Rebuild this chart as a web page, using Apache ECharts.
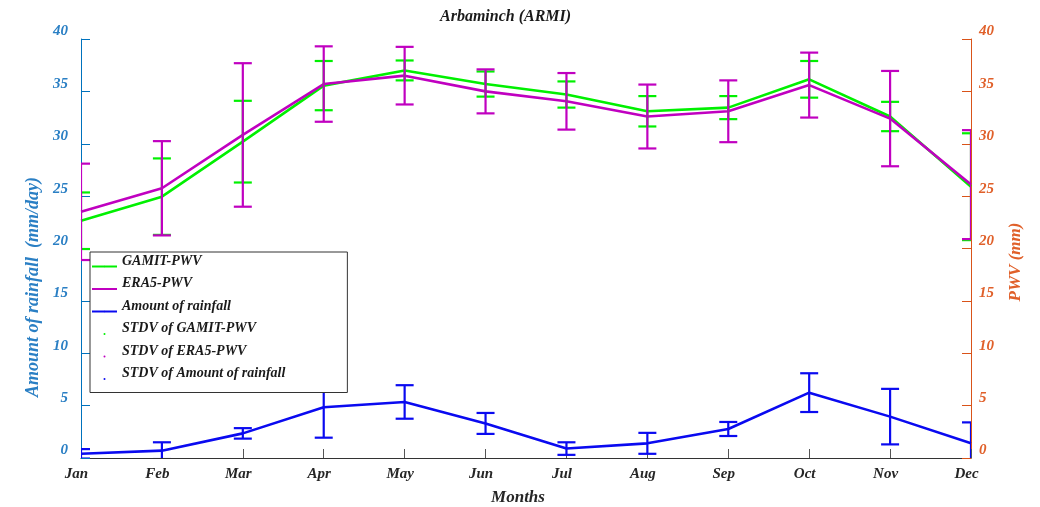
<!DOCTYPE html>
<html>
<head>
<meta charset="utf-8">
<script src="https://cdn.jsdelivr.net/npm/echarts@6/dist/echarts.min.js"></script>
<style>html,body{margin:0;padding:0;background:#fff}#c{width:1040px;height:507px}</style>
</head>
<body>
<div id="c"></div>
<script>
const months = ['Jan','Feb','Mar','Apr','May','Jun','Jul','Aug','Sep','Oct','Nov','Dec'];
const gamitPWV = [22.65, 24.95, 30.2, 35.55, 37.0, 35.7, 34.7, 33.1, 33.45, 36.15, 32.6, 25.9];
const gamitStd = [2.7, 3.65, 3.9, 2.35, 0.95, 1.2, 1.25, 1.45, 1.1, 1.75, 1.4, 5.1];
const era5PWV = [23.5, 25.75, 30.84, 35.7, 36.5, 35.0, 34.05, 32.6, 33.1, 35.6, 32.4, 26.1];
const era5Std = [4.6, 4.5, 6.85, 3.6, 2.75, 2.1, 2.7, 3.05, 2.95, 3.1, 4.55, 5.2];
const rainfall = [0.4, 0.7, 2.35, 4.84, 5.35, 3.3, 0.9, 1.4, 2.77, 6.24, 3.95, 1.4];
const rainStd = [0.45, 0.8, 0.5, 2.9, 1.6, 1.0, 0.6, 1.0, 0.67, 1.85, 2.65, 2.0];
const yTicks = [0, 5, 10, 15, 20, 25, 30, 35, 40];

const C_GAMIT = '#00f000', C_ERA = '#c000c0', C_RAIN = '#0a0af0';
const C_LEFT = '#2a7fc4', C_RIGHT = '#e0602a';
const L_LEFT = '#0072BD', L_RIGHT = '#D95319';
const FONT = 'Liberation Serif';

function errRender(color, lw) {
  return function (params, api) {
    const i = api.value(0), m = api.value(1), s = api.value(2);
    const t = api.coord([i, m + s]);
    const b = api.coord([i, m - s]);
    const h = 9;
    const st = { stroke: color, lineWidth: lw };
    return { type: 'group', children: [
      { type: 'line', shape: { x1: t[0], y1: t[1], x2: b[0], y2: b[1] }, style: st },
      { type: 'line', shape: { x1: t[0] - h, y1: t[1], x2: t[0] + h, y2: t[1] }, style: st },
      { type: 'line', shape: { x1: b[0] - h, y1: b[1], x2: b[0] + h, y2: b[1] }, style: st }
    ]};
  };
}
function errData(mean, std) { return mean.map((v, i) => [i, v, std[i]]); }

const chart = echarts.init(document.getElementById('c'), null, { renderer: 'canvas' });
const labelFmt = v => yTicks.indexOf(v) >= 0 ? String(v) : '';
chart.setOption({
  animation: false,
  backgroundColor: '#fff',
  title: {
    text: 'Arbaminch (ARMI)', left: 435, top: 4,
    textStyle: { fontFamily: FONT, fontStyle: 'italic', fontWeight: 'bold', fontSize: 16, color: '#1a1a1a' }
  },
  grid: { left: 81, right: 69, top: 39, bottom: 49, outerBoundsMode: 'none', containLabel: false },
  xAxis: {
    type: 'category', data: months, boundaryGap: false,
    name: 'Months', nameLocation: 'middle', nameGap: 31,
    nameTextStyle: { fontFamily: FONT, fontStyle: 'italic', fontWeight: 'bold', fontSize: 17, color: '#262626', padding: [0, 16, 0, 0] },
    axisLine: { lineStyle: { color: '#333', width: 1 } },
    axisTick: { inside: true, length: 9, alignWithLabel: true, lineStyle: { color: '#555' } },
    axisLabel: { margin: 9, fontFamily: FONT, fontStyle: 'italic', fontWeight: 'bold', fontSize: 15, color: '#262626', padding: [0, 9, 0, 0], interval: 0 }
  },
  yAxis: [
    {
      type: 'value', min: 0, max: 40, interval: 5, position: 'left',
      splitLine: { show: false },
      name: 'Amount of rainfall  (mm/day)', nameLocation: 'middle', nameGap: 39,
      nameTextStyle: { fontFamily: FONT, fontStyle: 'italic', fontWeight: 'bold', fontSize: 18, color: C_LEFT, padding: [0, 77, 0, 0] },
      axisLine: { show: true, lineStyle: { color: L_LEFT, width: 1 } },
      axisTick: { show: true, inside: true, length: 9, lineStyle: { color: L_LEFT, width: 1 } },
      axisLabel: { margin: 13, verticalAlign: 'bottom', fontFamily: FONT, fontStyle: 'italic', fontWeight: 'bold', fontSize: 15, color: C_LEFT, formatter: labelFmt }
    },
    {
      type: 'value', min: 0, max: 40, interval: 5, position: 'right',
      splitLine: { show: false },
      name: 'PWV (mm)', nameLocation: 'middle', nameGap: 36,
      nameTextStyle: { fontFamily: FONT, fontStyle: 'italic', fontWeight: 'bold', fontSize: 17, color: C_RIGHT, padding: [0, 27, 0, 0] },
      axisLine: { show: true, lineStyle: { color: L_RIGHT, width: 1 } },
      axisTick: { show: true, inside: true, length: 9, lineStyle: { color: L_RIGHT, width: 1 } },
      axisLabel: { margin: 8, verticalAlign: 'bottom', fontFamily: FONT, fontStyle: 'italic', fontWeight: 'bold', fontSize: 15, color: C_RIGHT, formatter: labelFmt }
    }
  ],
  legend: {
    orient: 'vertical', left: 90, top: 252,
    padding: [2, 62, 1, 1], itemGap: -2.5,
    itemWidth: 25, itemHeight: 2,
    backgroundColor: '#fff', borderColor: '#333', borderWidth: 1,
    formatter: name => '{t|' + name + '}',
    textStyle: {
      fontFamily: FONT, fontStyle: 'italic', fontWeight: 'bold', fontSize: 14, color: '#1a1a1a',
      rich: { t: { fontFamily: FONT, fontStyle: 'italic', fontWeight: 'bold', fontSize: 14, color: '#1a1a1a', lineHeight: 12, padding: [0, 0, 11, 0] } }
    },
    data: [
      { name: 'GAMIT-PWV' },
      { name: 'ERA5-PWV' },
      { name: 'Amount of rainfall' },
      { name: 'STDV of GAMIT-PWV', icon: 'circle' },
      { name: 'STDV of ERA5-PWV', icon: 'circle' },
      { name: 'STDV of Amount of rainfall', icon: 'circle' }
    ]
  },
  series: [
    { name: 'GAMIT-PWV', type: 'line', yAxisIndex: 1, data: gamitPWV, symbol: 'none', lineStyle: { color: C_GAMIT, width: 2.6 }, itemStyle: { color: C_GAMIT }, z: 2 },
    { name: 'ERA5-PWV', type: 'line', yAxisIndex: 1, data: era5PWV, symbol: 'none', lineStyle: { color: C_ERA, width: 2.6 }, itemStyle: { color: C_ERA }, z: 2 },
    { name: 'Amount of rainfall', type: 'line', yAxisIndex: 0, data: rainfall, symbol: 'none', lineStyle: { color: C_RAIN, width: 2.6 }, itemStyle: { color: C_RAIN }, z: 2 },
    { name: 'STDV of GAMIT-PWV', type: 'custom', yAxisIndex: 1, data: errData(gamitPWV, gamitStd), encode: { x: 0, y: 1 },
      renderItem: errRender(C_GAMIT, 2.2), itemStyle: { color: C_GAMIT }, clip: true, z: 3 },
    { name: 'STDV of ERA5-PWV', type: 'custom', yAxisIndex: 1, data: errData(era5PWV, era5Std), encode: { x: 0, y: 1 },
      renderItem: errRender(C_ERA, 2.2), itemStyle: { color: C_ERA }, clip: true, z: 3 },
    { name: 'STDV of Amount of rainfall', type: 'custom', yAxisIndex: 0, data: errData(rainfall, rainStd), encode: { x: 0, y: 1 },
      renderItem: errRender(C_RAIN, 2.2), itemStyle: { color: C_RAIN }, clip: true, z: 3 }
  ]
});
</script>
</body>
</html>
